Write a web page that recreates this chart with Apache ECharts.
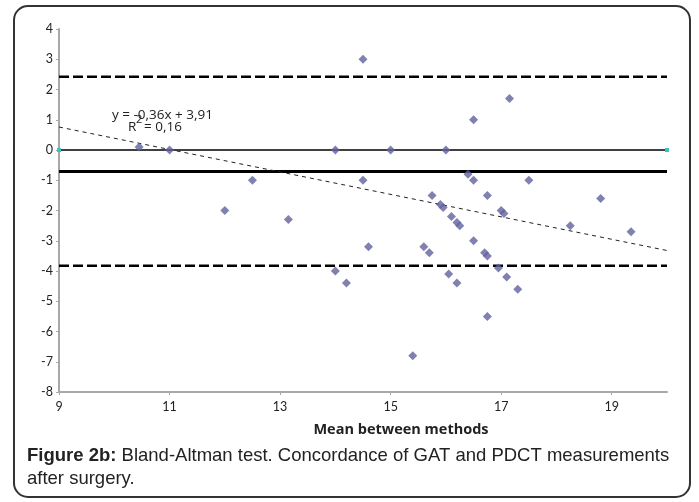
<!DOCTYPE html>
<html>
<head>
<meta charset="utf-8">
<script src="https://cdn.jsdelivr.net/npm/echarts@6/dist/echarts.min.js"></script>
<style>
  html, body { margin: 0; padding: 0; background: #fff; }
  #chart { width: 699px; height: 502px; }
</style>
</head>
<body>
<div id="chart"></div>
<script>
/* -------------------------------------------------------------------------- */
/*                        Bland-Altman scatter (Fig 2b)                        */
/* -------------------------------------------------------------------------- */

// mean between methods (x) and difference (y)
const meanValues = [
  10.45, 11.0, 12.0, 12.5, 13.15, 14.0, 14.0, 14.2, 14.5, 14.5, 14.6, 15.0,
  15.4, 15.6, 15.7, 15.75, 15.9, 15.95, 16.0, 16.05, 16.1, 16.2, 16.25, 16.2,
  16.4, 16.5, 16.5, 16.5, 16.7, 16.75, 16.75, 16.75, 16.95, 17.0, 17.05, 17.1,
  17.15, 17.3, 17.5, 18.25, 18.8, 19.35
];
const diffValues = [
  0.1, 0, -2.0, -1.0, -2.3, 0, -4.0, -4.4, 3.0, -1.0, -3.2, 0,
  -6.8, -3.2, -3.4, -1.5, -1.8, -1.9, 0, -4.1, -2.2, -2.4, -2.5, -4.4,
  -0.8, 1.0, -1.0, -3.0, -3.4, -3.5, -5.5, -1.5, -3.9, -2.0, -2.1, -4.2,
  1.7, -4.6, -1.0, -2.5, -1.6, -2.7
];

const xRange = [9, 20];
const zeroLine = [0, 0];
const meanDiff = -0.71;
const upperLimit = 2.42;
const lowerLimit = -3.83;
const trendX = [9, 20.1];
const trendY = [0.76, -3.36];

const xTicks = [9, 11, 13, 15, 17, 19];
const equationText = 'y = -0,36x + 3,91';
const xAxisTitle = 'Mean between methods';
const captionBold = 'Figure 2b:';
const captionLine1 = ' Bland-Altman test. Concordance of GAT and PDCT measurements';
const captionLine2 = 'after surgery.';

const pairs = (xs, ys) => xs.map((x, i) => [x, ys[i]]);
const flatLine = v => xRange.map(x => [x, v]);

const chartInit = () => {
  const $chart = document.getElementById('chart');
  const chart = echarts.init($chart, null, { renderer: 'canvas' });

  const tickFont = { fontFamily: 'Lato', fontSize: 12.5, color: '#222' };
  const axisGrey = '#a8a8a8';
  const captionFont = '"Liberation Sans", Arial, sans-serif';
  const eqFont = '"Open Sans"';

  const option = {
    animation: false,
    backgroundColor: '#fff',
    grid: { left: 59, right: 32, top: 29, bottom: 110, containLabel: false },
    xAxis: {
      type: 'value',
      min: xRange[0],
      max: xRange[1],
      interval: 2,
      axisLine: { show: true, onZero: false, lineStyle: { color: axisGrey, width: 2 } },
      axisTick: { show: true, length: 3, lineStyle: { color: axisGrey } },
      splitLine: { show: false },
      axisLabel: {
        ...tickFont,
        margin: 8,
        showMaxLabel: false,
        formatter: v => (xTicks.includes(v) ? String(v) : '')
      }
    },
    yAxis: {
      type: 'value',
      min: -8,
      max: 4,
      interval: 1,
      axisLine: { show: true, lineStyle: { color: axisGrey, width: 2 } },
      axisTick: { show: true, length: 3, lineStyle: { color: axisGrey } },
      splitLine: { show: false },
      axisLabel: { ...tickFont, margin: 6 }
    },
    series: [
      {
        name: 'upper',
        type: 'line',
        data: flatLine(upperLimit),
        symbol: 'none',
        lineStyle: { color: '#000', width: 2.5, type: [10, 4] },
        z: 2
      },
      {
        name: 'lower',
        type: 'line',
        data: flatLine(lowerLimit),
        symbol: 'none',
        lineStyle: { color: '#000', width: 2.5, type: [10, 4] },
        z: 2
      },
      {
        name: 'mean',
        type: 'line',
        data: flatLine(meanDiff),
        symbol: 'none',
        lineStyle: { color: '#000', width: 3 },
        z: 2
      },
      {
        name: 'zero',
        type: 'line',
        data: pairs(xRange, zeroLine),
        symbol: 'rect',
        symbolSize: 4,
        showSymbol: true,
        itemStyle: { color: '#3fc1c1' },
        lineStyle: { color: '#000', width: 1.5 },
        z: 2
      },
      {
        name: 'trend',
        type: 'line',
        data: pairs(trendX, trendY),
        symbol: 'none',
        clip: false,
        lineStyle: { color: '#222', width: 1, type: [4, 4] },
        z: 3
      },
      {
        name: 'diff',
        type: 'scatter',
        data: pairs(meanValues, diffValues),
        symbol: 'diamond',
        symbolSize: 9,
        itemStyle: { color: '#62629e' },
        z: 4
      }
    ],
    graphic: [
      {
        type: 'rect',
        shape: { x: 14, y: 6, width: 676, height: 491, r: 14 },
        style: { fill: 'none', stroke: '#333', lineWidth: 2 },
        silent: true
      },
      {
        type: 'text', x: 112, y: 115,
        style: { text: equationText, font: '13.5px ' + eqFont, fill: '#222', verticalAlign: 'middle' }
      },
      {
        type: 'text', x: 128, y: 127,
        style: { text: 'R', font: '13.5px ' + eqFont, fill: '#222', verticalAlign: 'middle' }
      },
      {
        type: 'text', x: 136, y: 120,
        style: { text: '2', font: '11px ' + eqFont, fill: '#222', verticalAlign: 'middle' }
      },
      {
        type: 'text', x: 144, y: 127,
        style: { text: '= 0,16', font: '13.5px ' + eqFont, fill: '#222', verticalAlign: 'middle' }
      },
      {
        type: 'text', x: 401, y: 430,
        style: { text: xAxisTitle, font: 'bold 14.5px ' + eqFont, fill: '#222', align: 'center', verticalAlign: 'middle' }
      },
      {
        type: 'text', x: 27, y: 456,
        style: {
          text: '{b|' + captionBold + '}' + captionLine1,
          font: '18.5px ' + captionFont,
          fill: '#222',
          verticalAlign: 'middle',
          rich: { b: { fontWeight: 'bold', fontSize: 18.5, fontFamily: captionFont } }
        }
      },
      {
        type: 'text', x: 27, y: 479,
        style: { text: captionLine2, font: '18.5px ' + captionFont, fill: '#222', verticalAlign: 'middle' }
      }
    ]
  };

  chart.setOption(option);
  window.addEventListener('resize', () => chart.resize());
};

chartInit();
</script>
</body>
</html>
